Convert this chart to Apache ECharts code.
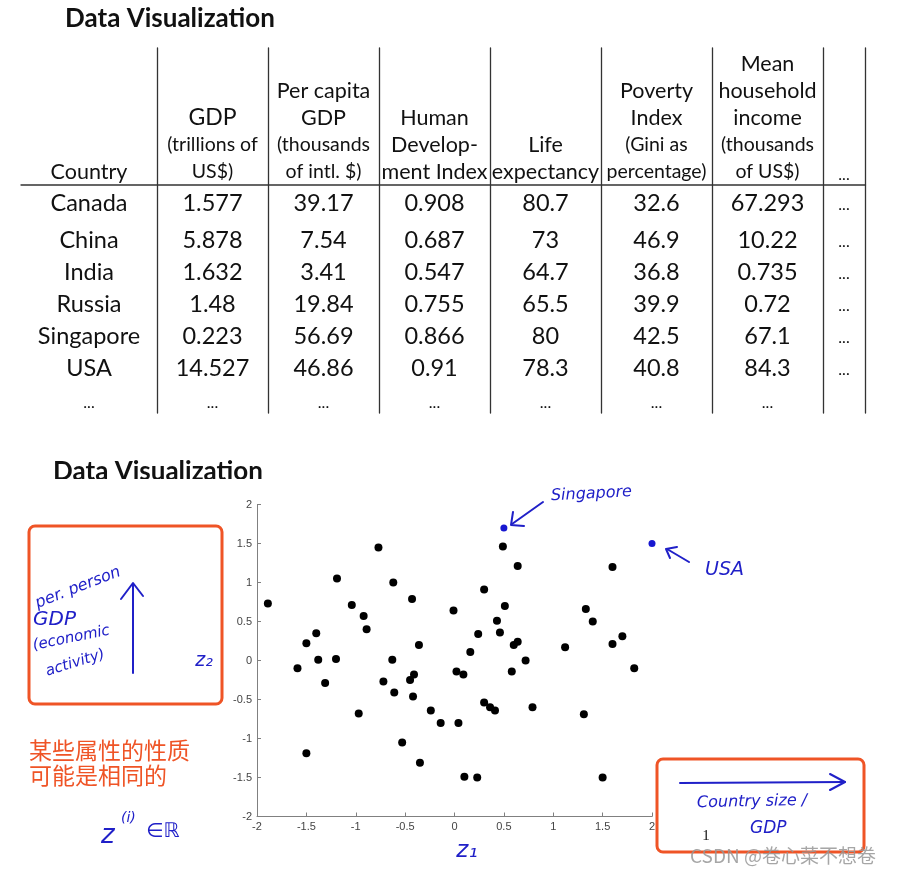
<!DOCTYPE html>
<html><head><meta charset="utf-8">
<script src="https://cdn.jsdelivr.net/npm/echarts@6/dist/echarts.min.js"></script>
<style>html,body{margin:0;padding:0;background:#fff}#c{width:897px;height:873px}</style>
</head><body><div id="c"></div>
<script>
// ---------- table data ----------
const countries = ['Canada', 'China', 'India', 'Russia', 'Singapore', 'USA', '...'];
const gdp = ['1.577', '5.878', '1.632', '1.48', '0.223', '14.527', '...'];
const perCapitaGdp = ['39.17', '7.54', '3.41', '19.84', '56.69', '46.86', '...'];
const humanDevIndex = ['0.908', '0.687', '0.547', '0.755', '0.866', '0.91', '...'];
const lifeExpectancy = ['80.7', '73', '64.7', '65.5', '80', '78.3', '...'];
const povertyIndex = ['32.6', '46.9', '36.8', '39.9', '42.5', '40.8', '...'];
const householdIncome = ['67.293', '10.22', '0.735', '0.72', '67.1', '84.3', '...'];
const moreColumns = ['...', '...', '...', '...', '...', '...', ''];

// header lines: [main lines], [sub lines]
const headerMain = [['Country'], ['GDP'], ['Per capita', 'GDP'], ['Human', 'Develop-', 'ment Index'], ['Life', 'expectancy'], ['Poverty', 'Index'], ['Mean', 'household', 'income'], []];
const headerSub = [[], ['(trillions of', 'US$)'], ['(thousands', 'of intl. $)'], [], [], ['(Gini as', 'percentage)'], ['(thousands', 'of US$)'], ['...']];

// ---------- scatter data (z1, z2) ----------
const z1 = [-1.89, -1.19, -0.77, -0.62, -1.04, -0.92, -0.89, -0.43, -0.36, -1.50, -1.40, -1.38, -1.20, -0.63, -1.59, -1.31, -0.72, -0.61, -0.45, -0.41, -0.42, -0.97, -0.24, -0.14, -0.53, -1.50, -0.35, 0.49, 0.64, 1.60, 0.30, -0.01, 0.51, 0.43, 0.46, 0.24, 0.64, 0.60, 0.16, 0.72, 1.12, 1.33, 1.40, 1.70, 1.60, 1.82, 0.02, 0.09, 0.58, 0.04, 0.30, 0.36, 0.41, 0.79, 1.31, 0.10, 0.23, 1.50];
const z2 = [0.73, 1.05, 1.45, 1.00, 0.71, 0.57, 0.40, 0.79, 0.20, 0.22, 0.35, 0.01, 0.02, 0.01, -0.10, -0.29, -0.27, -0.41, -0.25, -0.18, -0.46, -0.68, -0.64, -0.80, -1.05, -1.19, -1.31, 1.46, 1.21, 1.20, 0.91, 0.64, 0.70, 0.51, 0.36, 0.34, 0.24, 0.20, 0.11, 0.00, 0.17, 0.66, 0.50, 0.31, 0.21, -0.10, -0.14, -0.18, -0.14, -0.80, -0.54, -0.60, -0.64, -0.60, -0.69, -1.49, -1.50, -1.50];
const highlightNames = ['Singapore', 'USA'];
const highlightZ1 = [0.50, 2.00];
const highlightZ2 = [1.70, 1.50];

// ---------- layout / style ----------
const FONT = 'Lato, "Noto Sans", sans-serif';
const HAND = '"DejaVu Sans", sans-serif';
const BLUE = '#2020c8';
const ORANGE = '#ef5426';
const colX = [89, 212.5, 323.5, 434.5, 545.5, 656.5, 767.5, 844];
const vLines = [157.5, 268.5, 379.5, 490.5, 601.5, 712.5, 823.5, 865.5];
const rowY = [203, 240, 272, 304, 336, 368, 403];
const columns = [countries, gdp, perCapitaGdp, humanDevIndex, lifeExpectancy, povertyIndex, householdIncome, moreColumns];

const g = [];
function txt(x, y, text, font, fill, align, rot) {
  const o = { type: 'text', x: x, y: y, z: 10, style: { text: text, font: font, fill: fill || '#111', textAlign: align || 'center', textVerticalAlign: 'middle' } };
  if (rot) o.rotation = rot;
  g.push(o);
}
function line(x1, y1, x2, y2, stroke, w) {
  g.push({ type: 'line', z: 10, shape: { x1: x1, y1: y1, x2: x2, y2: y2 }, style: { stroke: stroke, lineWidth: w, lineCap: 'round' } });
}
function poly(points, stroke, w) {
  g.push({ type: 'polyline', z: 10, shape: { points: points }, style: { stroke: stroke, lineWidth: w, fill: 'none', lineJoin: 'round', lineCap: 'round' } });
}

// titles
txt(65, 19, 'Data Visualization', 'bold 26px ' + FONT, '#111', 'left');
txt(53, 472, 'Data Visualization', 'bold 26px ' + FONT, '#111', 'left');
g.push({ type: 'rect', z: 20, shape: { x: 40, y: 479, width: 260, height: 16 }, style: { fill: '#fff' } });

// table lines
vLines.forEach(x => line(x, 48, x, 413, '#333', 1.3));
line(21, 185, 865.5, 185, '#333', 1.3);

// headers (bottom aligned, line spacing 27)
headerMain.forEach((m, c) => {
  const all = m.map(t => [t, 'main']).concat(headerSub[c].map(t => [t, 'sub']));
  const n = all.length;
  all.forEach((it, i) => {
    const y = 172 - (n - 1 - i) * 27;
    let size = it[1] === 'main' ? 21.5 : 19.5;
    if (c === 1 && it[0] === 'GDP') size = 23;
    const isDots = it[0] === '...';
    txt(colX[c], isDots ? 175 : y, it[0], (isDots ? 16 : size) + 'px ' + FONT, '#111');
  });
});

// rows
columns.forEach((col, c) => {
  col.forEach((v, r) => {
    const isDots = v === '...';
    txt(colX[c], rowY[r] + (isDots && r < 6 ? 2 : 0), v, (isDots ? 16 : 23.5) + 'px ' + FONT, '#111');
  });
});

// orange boxes and Chinese note
g.push({ type: 'rect', z: 10, shape: { x: 29, y: 526, width: 193, height: 178, r: 6 }, style: { fill: 'none', stroke: ORANGE, lineWidth: 3 } });
g.push({ type: 'rect', z: 10, shape: { x: 657, y: 759, width: 207, height: 93, r: 6 }, style: { fill: 'none', stroke: ORANGE, lineWidth: 3 } });
txt(29, 750, '某些属性的性质', '23px "Noto Sans CJK SC"', ORANGE, 'left');
txt(29, 775, '可能是相同的', '23px "Noto Sans CJK SC"', ORANGE, 'left');

// handwritten notes (left box)
txt(36, 604, 'per. person', 'italic 16px ' + HAND, BLUE, 'left', 0.37);
txt(33, 620, 'GDP', 'italic 20px ' + HAND, BLUE, 'left');
txt(33, 646, '(economic', 'italic 15px ' + HAND, BLUE, 'left', 0.2);
txt(46, 672, 'activity)', 'italic 15px ' + HAND, BLUE, 'left', 0.3);
line(133, 673, 133, 584, BLUE, 2);
poly([[121, 599], [133, 583], [143, 596]], BLUE, 2);
txt(204, 661, 'z₂', 'italic 19px ' + HAND, BLUE, 'center');
txt(101, 836, 'z', 'italic 26px ' + HAND, BLUE, 'left');
txt(121, 818, '(i)', 'italic 14px ' + HAND, BLUE, 'left');
txt(146, 832, '∈ℝ', 'italic 20px ' + HAND, BLUE, 'left');
txt(467, 851, 'z₁', 'italic 23px ' + HAND, BLUE, 'center');

// Singapore / USA notes
txt(551, 496, 'Singapore', 'italic 16px ' + HAND, BLUE, 'left', 0.05);
line(543, 502, 512, 524, BLUE, 2);
poly([[513, 512], [511, 525], [524, 526]], BLUE, 2);
txt(705, 570, 'USA', 'italic 19px ' + HAND, BLUE, 'left');
line(689, 562, 667, 549, BLUE, 2);
poly([[670, 558], [666, 549], [677, 547]], BLUE, 2);

// right box notes
line(680, 783, 845, 782, BLUE, 2);
poly([[830, 774], [845, 782], [830, 790]], BLUE, 2);
txt(697, 803, 'Country size /', 'italic 16px ' + HAND, BLUE, 'left', 0.02);
txt(750, 829, 'GDP', 'italic 17px ' + HAND, BLUE, 'left');
txt(706, 836, '1', '15px "Liberation Serif"', '#111', 'center');
txt(690, 856, 'CSDN @卷心菜不想卷', '19px "Noto Sans CJK SC"', 'rgba(150,150,150,0.85)', 'left');

const pts = z1.map((x, i) => [x, z2[i]]);
const hl = highlightZ1.map((x, i) => ({ name: highlightNames[i], value: [x, highlightZ2[i]] }));

const axisCommon = {
  type: 'value', min: -2, max: 2, interval: 0.5,
  axisLine: { show: true, onZero: false, lineStyle: { color: '#808080', width: 1 } },
  axisTick: { show: true, inside: true, length: 4, lineStyle: { color: '#808080' } },
  axisLabel: { color: '#444', fontSize: 11, fontFamily: '"Liberation Sans", Arial', margin: 5, showMinLabel: true, showMaxLabel: true },
  splitLine: { show: false }
};

const chart = echarts.init(document.getElementById('c'), null, { renderer: 'canvas' });
chart.setOption({
  backgroundColor: '#fff',
  animation: false,
  grid: { left: 257, top: 504.5, width: 395, height: 312, containLabel: false },
  xAxis: Object.assign({}, axisCommon),
  yAxis: Object.assign({}, axisCommon),
  series: [
    { type: 'scatter', data: pts, symbolSize: 8, itemStyle: { color: '#000', opacity: 1 }, clip: false },
    { type: 'scatter', data: hl, symbolSize: 7, itemStyle: { color: '#1717d0', opacity: 1 }, clip: false }
  ],
  graphic: g
});
</script></body></html>
